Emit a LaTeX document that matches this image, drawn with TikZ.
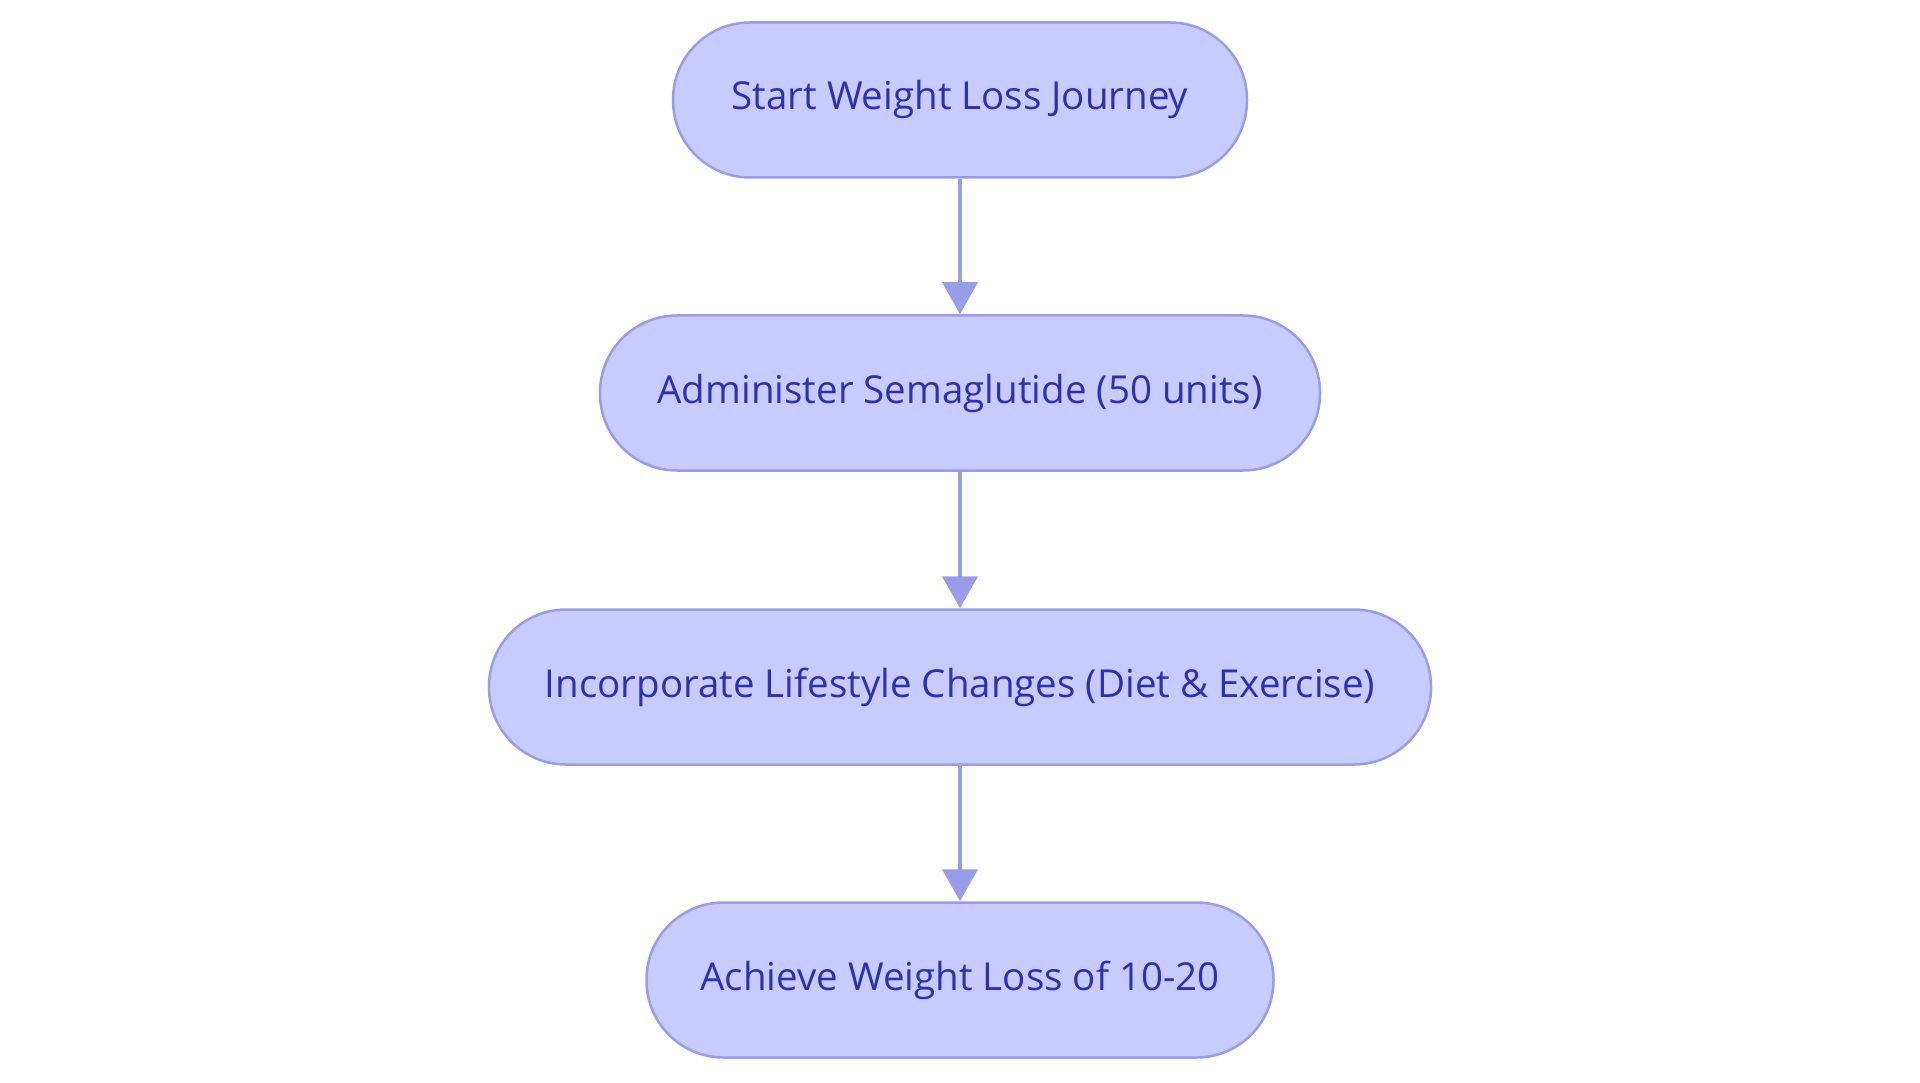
\documentclass[tikz,border=0pt]{standalone}
\usepackage{fontspec}
\setmainfont{Open Sans}
\usetikzlibrary{arrows.meta}
\definecolor{stepfill}{RGB}{200,203,254}
\definecolor{stepline}{RGB}{152,157,232}
\definecolor{steptext}{RGB}{46,46,182}
\begin{document}
\begin{tikzpicture}[x=1pt,y=-1pt,
        stepbox/.style={draw=stepline, line width=2.5pt, fill=stepfill, text=steptext,
            rounded corners=77pt, minimum height=155pt, inner sep=0pt,
            font=\fontsize{38.5}{46}\selectfont},
        flow/.style={draw=stepline, line width=4.5pt,
            -{Triangle[width=35pt,length=32pt]}}]
        \useasboundingbox (0,0) rectangle (1920,1083);

        \node[stepbox, minimum width=574pt] (start) at (960,100) {Start Weight Loss Journey};
        \node[stepbox, minimum width=720pt] (dose) at (960,393) {Administer Semaglutide (50 units)};
        \node[stepbox, minimum width=942pt] (life) at (960,687) {Incorporate Lifestyle Changes (Diet \& Exercise)};
        \node[stepbox, minimum width=627pt] (goal) at (960,980) {Achieve Weight Loss of 10-20};

        \draw[flow] (start) -- (dose);
        \draw[flow] (dose) -- (life);
        \draw[flow] (life) -- (goal);
    \end{tikzpicture}
\end{document}
